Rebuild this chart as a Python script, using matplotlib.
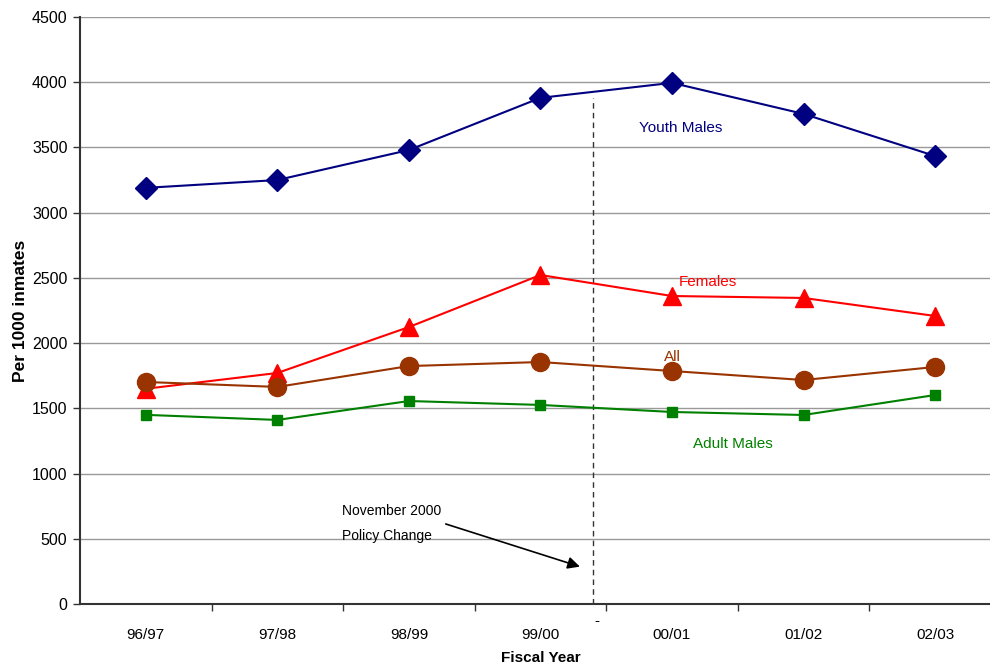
import matplotlib
matplotlib.use("Agg")
import matplotlib.pyplot as plt

plt.rcParams['font.family'] = ['Liberation Sans', 'DejaVu Sans']

years = ['96/97', '97/98', '98/99', '99/00', '00/01', '01/02', '02/03']
youth_males = [3190, 3250, 3480, 3880, 3995, 3757, 3434]
females = [1650, 1771, 2123, 2522, 2361, 2346, 2208]
all_inmates = [1702, 1664, 1824, 1855, 1786, 1717, 1817]
adult_males = [1450, 1411, 1556, 1526, 1472, 1449, 1602]
policy_pos = 3.4

fig = plt.figure(figsize=(9.9, 6.68), dpi=100)
ax = fig.add_axes([0.0808, 0.0958, 0.9302, 0.8788])
x = range(len(years))

ax.plot(x, adult_males, color='#008000', marker='s', markersize=7, lw=1.5, zorder=3)
ax.plot(x, youth_males, color='#000080', marker='D', markersize=11, lw=1.5, zorder=3)
ax.plot(x, females, color='#FF0000', marker='^', markersize=13, lw=1.5, zorder=3)
ax.plot(x, all_inmates, color='#993300', marker='o', markersize=13, lw=1.5, zorder=4)

ax.set_xlim(-0.5, len(years) - 0.5)
ax.set_ylim(0, 4500)
ax.set_yticks(range(0, 4501, 500))
ax.set_xticks(list(x))
ax.set_xticklabels(years)
ax.set_xticks([i + 0.5 for i in range(len(years) - 1)], minor=True)
ax.tick_params(axis='x', which='major', length=0, pad=17, labelsize=11)
ax.tick_params(axis='x', which='minor', length=5, width=1, color='#333333', direction='out')
ax.tick_params(axis='y', length=5, width=1, color='#333333', direction='out', labelsize=11.5, pad=4)
ax.yaxis.grid(True, color='#999999', lw=1)
ax.set_axisbelow(True)
for s in ['top', 'right']:
    ax.spines[s].set_visible(False)
for s in ['left', 'bottom']:
    ax.spines[s].set_color('#333333')
    ax.spines[s].set_linewidth(1.5)

ax.set_ylabel('Per 1000 inmates', fontsize=12.5, fontweight='bold', labelpad=3)
ax.set_xlabel('Fiscal Year', fontsize=11, fontweight='bold', labelpad=7)

# policy change marker
ax.plot([policy_pos, policy_pos], [0, 3880], color='#333333', ls=(0, (4, 3)), lw=1)
ax.text(policy_pos + 0.03, -130, '-', ha='center', va='center', fontsize=11)
ax.annotate('', xy=(policy_pos - 0.08, 280), xytext=(2.26, 620),
            arrowprops=dict(arrowstyle='-|>', color='black', lw=1.2, mutation_scale=18))
ax.text(1.49, 615, 'November 2000\nPolicy Change', fontsize=10, va='center', ha='left', linespacing=2.0)

ax.text(3.75, 3650, 'Youth Males', color='#000080', fontsize=11, va='center')
ax.text(4.05, 2470, 'Females', color='#FF0000', fontsize=11, va='center')
ax.text(3.94, 1890, 'All', color='#993300', fontsize=11, va='center')
ax.text(4.16, 1230, 'Adult Males', color='#008000', fontsize=11, va='center')

fig.savefig('out.png', dpi=100)
